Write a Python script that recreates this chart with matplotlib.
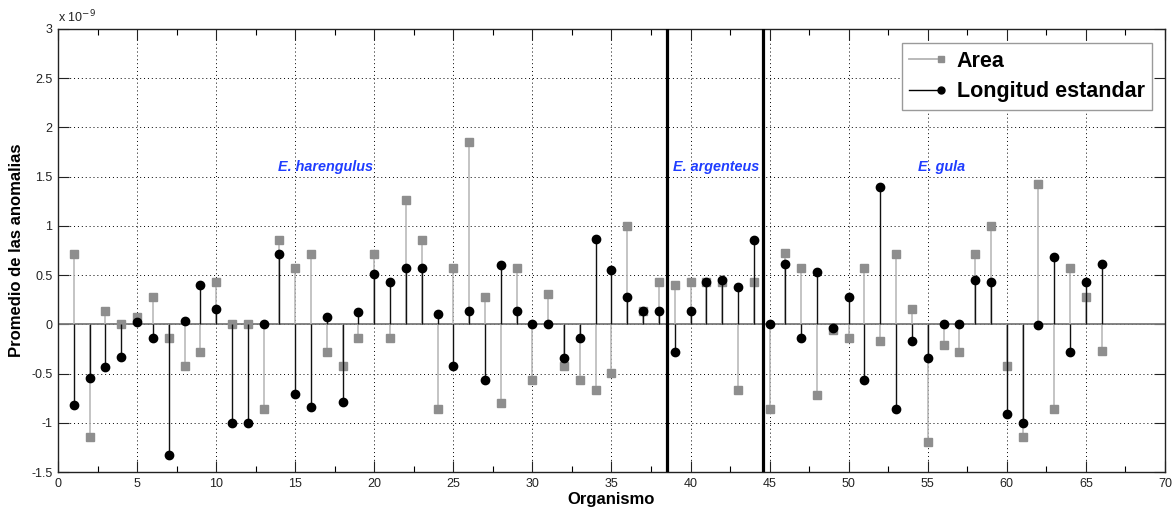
import numpy as np
import matplotlib
matplotlib.use("Agg")
import matplotlib.pyplot as plt
from matplotlib.lines import Line2D
from matplotlib.legend_handler import HandlerBase
from matplotlib.ticker import MultipleLocator

plt.rcParams['font.family'] = ['Liberation Sans', 'DejaVu Sans']

# Mean anomalies per specimen (units of 1e-9)
organismo = list(range(1, 67))
area = [0.71, -1.14, 0.14, 0.00, 0.07, 0.28, -0.14, -0.42, -0.28, 0.43,
        0.00, 0.00, -0.86, 0.86, 0.57, 0.71, -0.28, -0.42, -0.14, 0.71,
        -0.14, 1.26, 0.86, -0.86, 0.57, 1.85, 0.28, -0.80, 0.57, -0.57,
        0.31, -0.42, -0.57, -0.67, -0.49, 1.00, 0.14, 0.43, 0.40, 0.43,
        0.43, 0.43, -0.67, 0.43, -0.86, 0.72, 0.57, -0.72, -0.06, -0.14,
        0.57, -0.17, 0.71, 0.16, -1.20, -0.21, -0.28, 0.71, 1.00, -0.42,
        -1.14, 1.43, -0.86, 0.57, 0.28, -0.27]
longitud = [-0.82, -0.55, -0.43, -0.33, 0.02, -0.14, -1.33, 0.03, 0.40, 0.16,
            -1.00, -1.00, 0.00, 0.71, -0.71, -0.84, 0.07, -0.79, 0.13, 0.51,
            0.43, 0.57, 0.57, 0.11, -0.42, 0.14, -0.57, 0.60, 0.14, 0.00,
            0.00, -0.34, -0.14, 0.87, 0.55, 0.28, 0.14, 0.14, -0.28, 0.14,
            0.43, 0.45, 0.38, 0.86, 0.00, 0.61, -0.14, 0.53, -0.04, 0.28,
            -0.57, 1.39, -0.86, -0.17, -0.34, 0.00, 0.00, 0.45, 0.43, -0.91,
            -1.00, -0.01, 0.68, -0.28, 0.43, 0.61]

# Species boundaries and group labels
separadores = [38.5, 44.6]
especies = ["E. harengulus", "E. argenteus", "E. gula"]
especies_x = [16.9, 41.65, 55.9]
especies_y = [1.6, 1.6, 1.6]

fig = plt.figure(figsize=(11.75, 5.14), dpi=100)
ax = fig.add_axes([0.0494, 0.0817, 0.9420, 0.8619])

ax.axhline(0, color='#7a7a7a', lw=1.3, zorder=2)

area_line = '#b4b4b4'
area_mark = '#8e8e8e'
ml, sl, bl = ax.stem(organismo, area, linefmt='-', markerfmt='s', basefmt=' ')
sl.set_color(area_line)
sl.set_linewidth(1.1)
sl.set_zorder(3)
ml.set_color(area_mark)
ml.set_markersize(5.5)
ml.set_zorder(4)

ml2, sl2, bl2 = ax.stem(organismo, longitud, linefmt='-', markerfmt='o', basefmt=' ')
sl2.set_color('#111111')
sl2.set_linewidth(1.0)
sl2.set_zorder(5)
ml2.set_color('black')
ml2.set_markersize(6)
ml2.set_zorder(6)

for xs in separadores:
    ax.axvline(xs, color='black', lw=2.3, zorder=7)

for name, tx, ty in zip(especies, especies_x, especies_y):
    ax.text(tx, ty, name, color='#1f3dff', fontsize=10.4, fontweight='bold',
            style='italic', ha='center', va='center', zorder=8)

ax.set_xlim(0, 70)
ax.set_ylim(-1.5, 3)
ax.xaxis.set_major_locator(MultipleLocator(5))
ax.xaxis.set_minor_locator(MultipleLocator(2.5))
ax.yaxis.set_major_locator(MultipleLocator(0.5))
ax.set_yticklabels([f"{v:g}" for v in ax.get_yticks()])
ax.grid(True, which='major', color='black', ls=(0, (1, 3)), lw=0.7)
ax.tick_params(which='major', direction='in', length=8, width=0.8,
               top=True, right=True, labelsize=9, colors='#222222', pad=4)
ax.tick_params(which='minor', direction='in', length=4, width=0.8,
               top=True, right=True)
for s in ax.spines.values():
    s.set_linewidth(1.0)
    s.set_color('#222222')

ax.set_xlabel('Organismo', fontsize=12, fontweight='bold', labelpad=2)
ax.set_ylabel('Promedio de las anomalias', fontsize=12, fontweight='bold', labelpad=5)
ax.text(0.0, 1.008, r'x 10$^{-9}$', transform=ax.transAxes, fontsize=9,
        ha='left', va='bottom', color='#222222')


class StemKey(HandlerBase):
    """Legend key: a stem line with the marker at its right end."""
    def create_artists(self, legend, orig, xd, yd, w, h, fs, trans):
        y = h / 2 - yd
        line = Line2D([-xd, -xd + w], [y, y], color=orig.get_color(),
                      lw=orig.get_linewidth())
        mark = Line2D([-xd + w], [y], marker=orig.get_marker(), ls='none',
                      ms=orig.get_markersize(),
                      mfc=orig.get_markerfacecolor(),
                      mec=orig.get_markeredgecolor())
        line.set_transform(trans)
        mark.set_transform(trans)
        return [line, mark]


h_area = Line2D([], [], color=area_line, lw=1.3, marker='s', ms=5,
                mfc=area_mark, mec=area_mark)
h_long = Line2D([], [], color='black', lw=1.0, marker='o', ms=5,
                mfc='black', mec='black')
leg = ax.legend([h_area, h_long], ['Area', 'Longitud estandar'],
                handler_map={Line2D: StemKey()},
                loc='upper right', bbox_to_anchor=(0.9886, 0.968),
                borderaxespad=0, fancybox=False, framealpha=1,
                edgecolor='#9a9a9a', handlelength=1.45, handletextpad=0.75,
                labelspacing=0.45, borderpad=0.35,
                prop={'weight': 'bold', 'size': 15.5})
leg.get_frame().set_linewidth(1.0)
leg.set_zorder(10)

fig.savefig('out.png', dpi=100)
